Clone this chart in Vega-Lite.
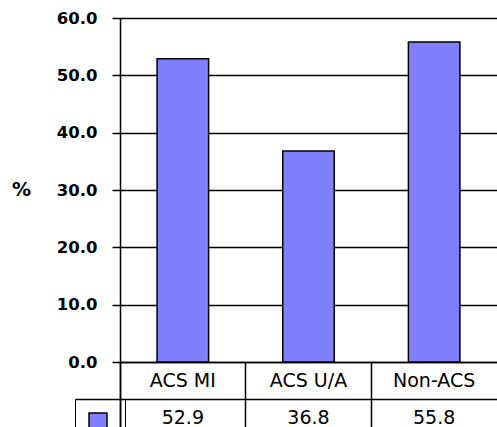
{
  "$schema": "https://vega.github.io/schema/vega-lite/v6.json",
  "padding": {"left": 11, "top": 10, "right": 0, "bottom": 0},
  "bounds": "flush",
  "spacing": 0,
  "data": {"values": [
    {"category": "ACS MI", "value": 52.9, "series": "%"},
    {"category": "ACS U/A", "value": 36.8, "series": "%"},
    {"category": "Non-ACS", "value": 55.8, "series": "%"}
  ]},
  "config": {"view": {"stroke": null}, "font": "DejaVu Sans", "background": "white"},
  "vconcat": [
    {
      "width": 377,
      "height": 344,
      "mark": {"type": "bar", "stroke": "black", "strokeWidth": 1.5, "width": {"band": 0.41}},
      "encoding": {
        "x": {"field": "category", "type": "nominal", "sort": null,
              "scale": {"type": "band", "domain": ["ACS MI", "ACS U/A", "Non-ACS"], "paddingInner": 0, "paddingOuter": 0},
              "axis": null},
        "y": {"field": "value", "type": "quantitative", "scale": {"domain": [0, 60]},
              "axis": {"values": [0, 10, 20, 30, 40, 50, 60], "format": ".1f",
                       "labelFontWeight": "bold", "labelFontSize": 16.5, "labelColor": "black", "labelPadding": 15,
                       "tickSize": 8, "tickColor": "black", "tickWidth": 1.5,
                       "domainColor": "black", "domainWidth": 1.5,
                       "grid": true, "gridColor": "black", "gridWidth": 1.5,
                       "title": "%", "titleAngle": 0, "titleFontWeight": "bold", "titleFontSize": 19, "titleColor": "black",
                       "titleAlign": "center", "titleBaseline": "middle", "titleX": -99, "titleY": 171}},
        "color": {"field": "series", "type": "nominal", "scale": {"range": ["#8080FF"]},
                  "legend": {"title": null, "orient": "none", "legendX": -45, "legendY": 381,
                             "symbolType": "square", "symbolSize": 324, "symbolStrokeColor": "black", "symbolStrokeWidth": 1.5,
                             "symbolFillColor": "#8080FF",
                             "strokeColor": "black", "padding": 9,
                             "labelExpr": "' '", "labelFontSize": 28, "labelOffset": 4}}
      }
    },
    {
      "width": 377,
      "height": 74,
      "layer": [
        {
          "mark": {"type": "text", "fontSize": 19, "color": "black"},
          "encoding": {
            "x": {"field": "category", "type": "nominal", "sort": null,
                  "scale": {"type": "band", "domain": ["ACS MI", "ACS U/A", "Non-ACS"], "paddingInner": 0, "paddingOuter": 0},
                  "axis": {"orient": "top", "labels": false, "ticks": false, "domain": false, "title": null,
                           "grid": true, "gridColor": "black", "gridWidth": 1.5, "bandPosition": 0}},
            "y": {"datum": "name", "type": "nominal",
                  "scale": {"type": "band", "domain": ["name", "value"], "paddingInner": 0, "paddingOuter": 0},
                  "axis": {"labels": false, "title": null, "domainColor": "black", "domainWidth": 1.5,
                           "grid": true, "gridColor": "black", "gridWidth": 1.5, "bandPosition": 0,
                           "ticks": true, "tickSize": 45, "tickColor": "black", "tickWidth": 1.5,
                           "tickOpacity": {"condition": {"test": "datum.value === 'value'", "value": 1}, "value": 0}}},
            "text": {"field": "category"}
          }
        },
        {
          "mark": {"type": "text", "fontSize": 19, "color": "black"},
          "encoding": {
            "x": {"field": "category", "type": "nominal", "sort": null},
            "y": {"datum": "value", "type": "nominal"},
            "text": {"field": "value", "type": "quantitative", "format": ".1f"}
          }
        }
      ]
    }
  ]
}
